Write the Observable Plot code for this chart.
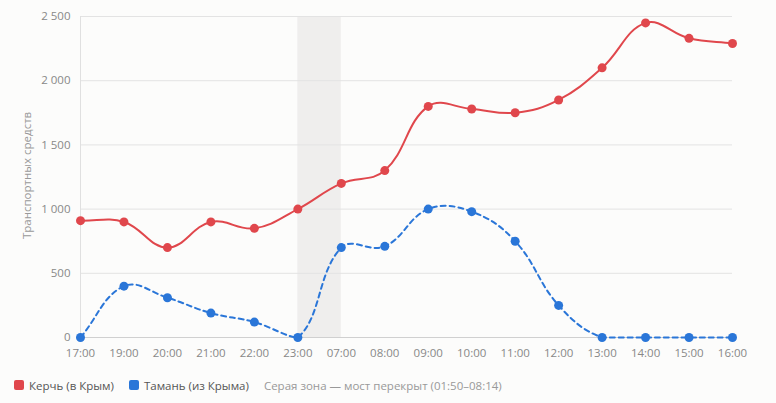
<!DOCTYPE html>
<html>
<head>
<meta charset="utf-8">
<script src="https://cdn.jsdelivr.net/npm/d3@7"></script>
<script src="https://cdn.jsdelivr.net/npm/@observablehq/plot@0.6"></script>
<style>
  body { margin: 0; background: #fcfcfb; font-family: "Open Sans", sans-serif; }
  #chart svg { background: #fcfcfb; display: block; }
  .legend { display: flex; align-items: center; height: 30px; padding-left: 14px; font-size: 11.5px; color: #555; }
  .legend .item { display: flex; align-items: center; margin-right: 15px; }
  .legend .sw { width: 10px; height: 10px; border-radius: 2px; margin-right: 5px; }
  .legend .note { color: #999; }
</style>
</head>
<body>
<div id="chart"></div>
<script>
const hours = ["17:00","19:00","20:00","21:00","22:00","23:00","07:00","08:00","09:00","10:00","11:00","12:00","13:00","14:00","15:00","16:00"];
const kerch = [910, 900, 700, 900, 850, 1000, 1200, 1300, 1800, 1780, 1750, 1850, 2100, 2450, 2330, 2290];
const taman = [0, 400, 310, 190, 120, 0, 700, 710, 1000, 980, 750, 250, 0, 0, 0, 0];
const closedFrom = "23:00";
const closedTo = "07:00";
const yTicks = [0, 500, 1000, 1500, 2000, 2500];
const seriesNames = ["Керчь (в Крым)", "Тамань (из Крыма)"];
const colors = ["#e0474c", "#2a76d8"];
const note = "Серая зона — мост перекрыт (01:50–08:14)";
const yLabel = "Транспортных средств";

const W = 776, H = 370, MT = 16, MB = 33;

// Tension spline with control points kept inside the plot area
function cappedSpline(t, top, bottom) {
  return function(context) {
    let pts;
    return {
      areaStart() {}, areaEnd() {},
      lineStart() { pts = []; },
      point(x, y) { pts.push([+x, +y]); },
      lineEnd() {
        const n = pts.length;
        if (!n) return;
        const clamp = v => Math.max(top, Math.min(bottom, v));
        const cps = pts.map((c, i) => {
          const p = pts[i - 1] || c, nx = pts[i + 1] || c;
          const d01 = Math.hypot(c[0] - p[0], c[1] - p[1]);
          const d12 = Math.hypot(nx[0] - c[0], nx[1] - c[1]);
          let s01 = d01 / (d01 + d12), s12 = d12 / (d01 + d12);
          if (isNaN(s01)) s01 = 0;
          if (isNaN(s12)) s12 = 0;
          const fa = t * s01, fb = t * s12;
          return {
            px: c[0] - fa * (nx[0] - p[0]), py: clamp(c[1] - fa * (nx[1] - p[1])),
            nx: c[0] + fb * (nx[0] - p[0]), ny: clamp(c[1] + fb * (nx[1] - p[1]))
          };
        });
        context.moveTo(pts[0][0], pts[0][1]);
        for (let i = 1; i < n; i++) {
          context.bezierCurveTo(cps[i - 1].nx, cps[i - 1].ny, cps[i].px, cps[i].py, pts[i][0], pts[i][1]);
        }
      }
    };
  };
}
const curve = cappedSpline(0.4, MT, H - MB);

const kData = hours.map((h, i) => ({h, v: kerch[i]}));
const tData = hours.map((h, i) => ({h, v: taman[i]}));
const fmt = d => d3.format(",")(d).replace(/,/g, " ");

const chart = Plot.plot({
  width: W,
  height: H,
  marginTop: MT,
  marginBottom: MB,
  marginLeft: 80,
  marginRight: 44,
  style: {fontFamily: "'Open Sans', sans-serif", fontSize: "11.5px", background: "#fcfcfb", color: "#888"},
  x: {type: "point", domain: hours, padding: 0, round: false, label: null},
  y: {domain: [0, 2500], label: null},
  marks: [
    Plot.rect([{a: closedFrom, b: closedTo}], {x1: "a", x2: "b", y1: 0, y2: 2500, fill: "#efeeed"}),
    Plot.ruleY(yTicks, {stroke: "#e3e3e3", strokeWidth: 1}),
    Plot.ruleY([0], {stroke: "#d0d0d0"}),
    Plot.ruleX([hours[0]], {stroke: "#e0e0e0"}),
    Plot.axisY(yTicks, {tickSize: 0, tickPadding: 10, tickFormat: fmt, fill: "#888", fontSize: 11.5, label: null}),
    Plot.axisX(hours, {tickSize: 0, tickPadding: 11, fill: "#888", fontSize: 11.5, label: null}),
    Plot.text([yLabel], {frameAnchor: "left", dx: -53, y: 1262, rotate: -90, textAnchor: "middle", fill: "#999", fontSize: 11.5, text: d => d}),
    Plot.line(kData, {x: "h", y: "v", stroke: colors[0], strokeWidth: 2, curve}),
    Plot.dot(kData, {x: "h", y: "v", fill: colors[0], r: 4.5}),
    Plot.line(tData, {x: "h", y: "v", stroke: colors[1], strokeWidth: 2, strokeDasharray: "5,4", curve}),
    Plot.dot(tData, {x: "h", y: "v", fill: colors[1], r: 4.5})
  ]
});
document.getElementById("chart").append(chart);

const leg = document.createElement("div");
leg.className = "legend";
seriesNames.forEach((n, i) => {
  const it = document.createElement("div");
  it.className = "item";
  const sw = document.createElement("span");
  sw.className = "sw";
  sw.style.background = colors[i];
  it.append(sw, document.createTextNode(n));
  leg.append(it);
});
const nt = document.createElement("span");
nt.className = "note";
nt.textContent = note;
leg.append(nt);
document.body.append(leg);
</script>
</body>
</html>
